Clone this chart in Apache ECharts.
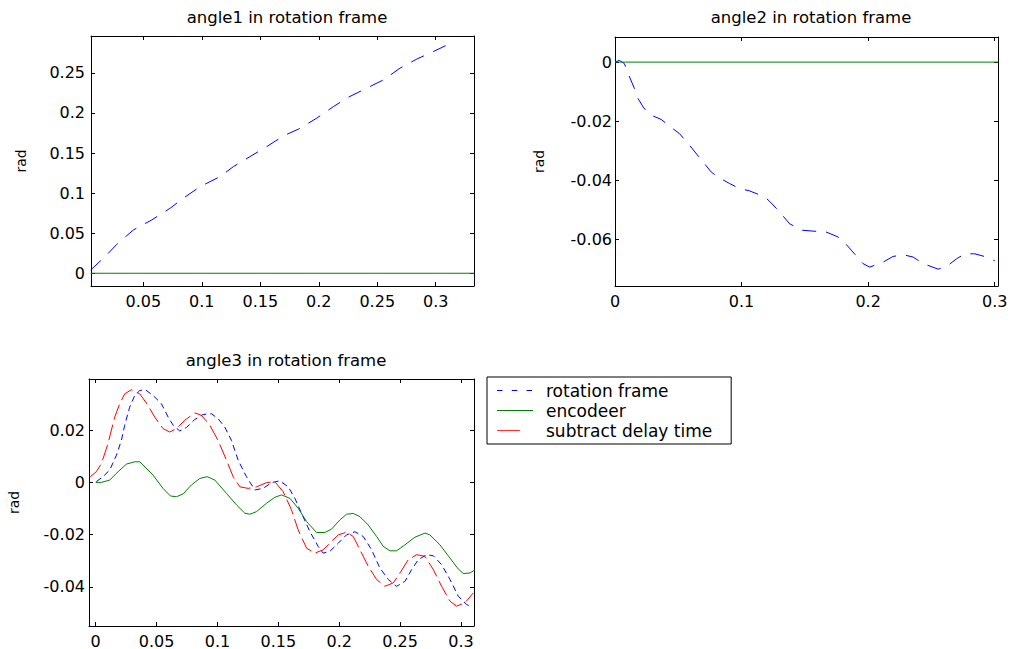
<!DOCTYPE html>
<html>
<head>
<meta charset="utf-8">
<script src="https://cdn.jsdelivr.net/npm/echarts@6/dist/echarts.min.js"></script>
<style>html,body{margin:0;padding:0;background:#fff;}#c{width:1012px;height:649px;}</style>
</head>
<body>
<div id="c"></div>
<script>
// ---------- data ----------
const titles = ['angle1 in rotation frame', 'angle2 in rotation frame', 'angle3 in rotation frame'];
const yName = 'rad';
const legendNames = ['rotation frame', 'encodeer', 'subtract delay time'];

// angle1
const a1Ticks_x = [0.05, 0.1, 0.15, 0.2, 0.25, 0.3];
const a1Ticks_y = [0, 0.05, 0.1, 0.15, 0.2, 0.25];
const a1Rot_x = [0.005, 0.0187, 0.0273, 0.0415, 0.0572, 0.0728, 0.0842, 0.0985, 0.1156, 0.127, 0.1413, 0.1555, 0.1698, 0.1826, 0.1983, 0.2126, 0.2254, 0.2411, 0.2553, 0.2696, 0.2838, 0.298, 0.3143];
const a1Rot_y = [0.004, 0.0228, 0.036, 0.054, 0.0665, 0.081, 0.0936, 0.108, 0.1206, 0.133, 0.1456, 0.158, 0.1714, 0.1798, 0.1935, 0.208, 0.2197, 0.231, 0.2413, 0.256, 0.2672, 0.2767, 0.2879];
const a1Enc_x = [0.005, 0.333];
const a1Enc_y = [0, 0];

// angle2
const a2Ticks_x = [0, 0.1, 0.2, 0.3];
const a2Ticks_y = [-0.06, -0.04, -0.02, 0];
const a2Rot_x = [0, 0.0034, 0.0074, 0.0105, 0.0153, 0.0166, 0.0227, 0.0272, 0.0364, 0.0456, 0.0509, 0.0588, 0.0688, 0.076, 0.0812, 0.0905, 0.0984, 0.1063, 0.1181, 0.1221, 0.13, 0.1379, 0.1472, 0.159, 0.1656, 0.1762, 0.1814, 0.188, 0.1959, 0.2012, 0.2118, 0.2197, 0.2276, 0.2355, 0.2434, 0.2553, 0.2619, 0.2698, 0.2764, 0.2843, 0.2935, 0.3001];
const a2Rot_y = [0, 0.0006, -0.0005, -0.004, -0.0089, -0.0112, -0.0155, -0.0177, -0.0194, -0.0225, -0.0242, -0.0281, -0.0334, -0.0372, -0.0389, -0.0411, -0.0428, -0.0436, -0.0456, -0.0471, -0.0507, -0.0547, -0.0569, -0.0573, -0.0573, -0.0592, -0.0611, -0.0643, -0.0682, -0.0694, -0.0677, -0.0658, -0.0652, -0.066, -0.0682, -0.0701, -0.0692, -0.0666, -0.0649, -0.0649, -0.066, -0.0673];
const a2Enc_x = [0, 0.303];
const a2Enc_y = [0, 0];

// angle3
const a3Ticks_x = [0, 0.05, 0.1, 0.15, 0.2, 0.25, 0.3];
const a3Ticks_y = [-0.04, -0.02, 0, 0.02];
const a3Rot_x = [0.0005, 0.006, 0.0115, 0.017, 0.0211, 0.0238, 0.0279, 0.0321, 0.0362, 0.0408, 0.0471, 0.054, 0.0595, 0.0636, 0.069, 0.0745, 0.0814, 0.0882, 0.0951, 0.1005, 0.106, 0.1115, 0.117, 0.1238, 0.1307, 0.1375, 0.1444, 0.1512, 0.1581, 0.1636, 0.169, 0.1759, 0.1827, 0.1868, 0.1923, 0.1992, 0.206, 0.2129, 0.2197, 0.2266, 0.2334, 0.2403, 0.2471, 0.254, 0.2595, 0.2649, 0.2718, 0.2773, 0.2841, 0.291, 0.2978, 0.3047, 0.3074];
const a3Rot_y = [0.0003, 0.0022, 0.0047, 0.0104, 0.0161, 0.0219, 0.0288, 0.0333, 0.0352, 0.0355, 0.0333, 0.0301, 0.025, 0.0219, 0.0197, 0.021, 0.0241, 0.026, 0.0263, 0.0244, 0.0212, 0.0161, 0.0085, 0.0022, -0.0029, -0.0023, -0.0001, 0.0006, -0.0017, -0.0061, -0.0118, -0.0188, -0.0245, -0.0271, -0.0264, -0.0233, -0.0201, -0.0189, -0.0207, -0.0258, -0.0328, -0.0372, -0.0398, -0.0379, -0.0334, -0.0296, -0.0277, -0.0281, -0.0315, -0.0372, -0.0436, -0.0468, -0.0474];
const a3Enc_x = [0, 0.0047, 0.0115, 0.0184, 0.0252, 0.0321, 0.0362, 0.0471, 0.0553, 0.0614, 0.0663, 0.0718, 0.0786, 0.0855, 0.0915, 0.0978, 0.1074, 0.1156, 0.1225, 0.1266, 0.1321, 0.1403, 0.1471, 0.1526, 0.1595, 0.1663, 0.1732, 0.1814, 0.1882, 0.1937, 0.2005, 0.206, 0.2115, 0.217, 0.2238, 0.2307, 0.2362, 0.2416, 0.2471, 0.254, 0.2622, 0.2704, 0.2745, 0.2827, 0.291, 0.2978, 0.3019, 0.3074, 0.3115];
const a3Enc_y = [0, 0, 0.0009, 0.0041, 0.007, 0.0079, 0.0079, 0.0028, -0.0023, -0.0052, -0.0055, -0.0044, -0.001, 0.0015, 0.0022, 0.0009, -0.0042, -0.0086, -0.0118, -0.0122, -0.0112, -0.008, -0.0057, -0.0048, -0.0061, -0.0099, -0.015, -0.0192, -0.0192, -0.0179, -0.0144, -0.0122, -0.0119, -0.0131, -0.0163, -0.0207, -0.0245, -0.0262, -0.0262, -0.0239, -0.021, -0.0194, -0.0201, -0.0239, -0.029, -0.0332, -0.0349, -0.0347, -0.0335];
const a3Del_x = [-0.0044, 0.0005, 0.0047, 0.0101, 0.0156, 0.0197, 0.0238, 0.0293, 0.0362, 0.043, 0.0485, 0.0553, 0.0608, 0.0663, 0.0732, 0.0814, 0.0868, 0.0937, 0.1005, 0.1074, 0.1129, 0.1184, 0.1252, 0.1321, 0.1403, 0.1471, 0.154, 0.1608, 0.1663, 0.1732, 0.18, 0.1868, 0.1923, 0.1992, 0.206, 0.2115, 0.217, 0.2238, 0.2307, 0.2375, 0.2444, 0.2499, 0.2567, 0.2636, 0.2704, 0.2773, 0.2841, 0.291, 0.2964, 0.3033, 0.3101];
const a3Del_y = [0.0022, 0.0041, 0.0072, 0.0149, 0.025, 0.0301, 0.0339, 0.0355, 0.0339, 0.0295, 0.025, 0.0206, 0.0193, 0.0206, 0.0238, 0.0266, 0.0257, 0.0219, 0.0161, 0.0085, 0.0022, -0.0017, -0.0023, -0.0017, -0.0001, 0.0003, -0.0036, -0.0105, -0.0182, -0.0252, -0.0271, -0.0258, -0.0233, -0.0201, -0.0191, -0.0207, -0.0258, -0.0321, -0.0372, -0.0398, -0.0385, -0.0347, -0.0296, -0.0277, -0.0283, -0.0334, -0.0398, -0.0455, -0.0474, -0.0461, -0.0423];

// ---------- build ----------
const FONT = 'DejaVu Sans';
const zip = (xs, ys) => xs.map((x, i) => [x, ys[i]]);

const grids = [
  {left: 91, top: 36, width: 383, height: 250},
  {left: 615, top: 37, width: 383, height: 249},
  {left: 89, top: 379, width: 385, height: 248}
];
const ranges = [
  {x: [0.0053, 0.3327], y: [-0.0159, 0.296], tx: a1Ticks_x, ty: a1Ticks_y, yMargin: 6, nameGap: 63},
  {x: [0, 0.3026], y: [-0.0758, 0.0085], tx: a2Ticks_x, ty: a2Ticks_y, yMargin: 3, nameGap: 69},
  {x: [-0.0055, 0.3107], y: [-0.055, 0.0396], tx: a3Ticks_x, ty: a3Ticks_y, yMargin: 4, nameGap: 68}
];

const xAxis = [], yAxis = [];
ranges.forEach((r, g) => {
  ['bottom', 'top'].forEach((pos, k) => {
    xAxis.push({
      type: 'value', gridIndex: g, position: pos, min: r.x[0], max: r.x[1],
      axisLine: {show: true, onZero: false, lineStyle: {color: '#000', width: 1}},
      axisTick: {show: true, inside: true, length: 4, customValues: r.tx, lineStyle: {color: '#000'}},
      axisLabel: {show: k === 0, customValues: r.tx, margin: 7, color: '#000', fontFamily: FONT, fontSize: 16, formatter: v => String(v)},
      splitLine: {show: false}
    });
  });
  ['left', 'right'].forEach((pos, k) => {
    yAxis.push({
      type: 'value', gridIndex: g, position: pos, min: r.y[0], max: r.y[1],
      name: k === 0 ? yName : '', nameLocation: 'middle', nameGap: r.nameGap, nameRotate: 90,
      nameTextStyle: {color: '#000', fontFamily: FONT, fontSize: 14},
      axisLine: {show: true, onZero: false, lineStyle: {color: '#000', width: 1}},
      axisTick: {show: true, inside: true, length: 4, customValues: r.ty, lineStyle: {color: '#000'}},
      axisLabel: {show: k === 0, customValues: r.ty, margin: r.yMargin, color: '#000', fontFamily: FONT, fontSize: 16, formatter: v => String(v)},
      splitLine: {show: false}
    });
  });
});

const BLUE = '#0000ff', GREEN = '#008000', RED = '#ff0000';
const DASH_TOP = [14, 10], DASH_BLUE = [6, 4], DASH_RED = [16, 5];

function line(name, g, xs, ys, color, dash) {
  return {
    name, type: 'line', xAxisIndex: g * 2, yAxisIndex: g * 2, data: zip(xs, ys),
    symbol: 'none', showSymbol: false, clip: true, smooth: false,
    lineStyle: {color, width: 1, type: dash || 'solid'}, itemStyle: {color}
  };
}

const series = [
  line('angle1 rotation', 0, a1Rot_x, a1Rot_y, BLUE, DASH_TOP),
  line('angle1 encoder', 0, a1Enc_x, a1Enc_y, GREEN),
  line('angle2 rotation', 1, a2Rot_x, a2Rot_y, BLUE, DASH_TOP),
  line('angle2 encoder', 1, a2Enc_x, a2Enc_y, GREEN),
  line(legendNames[0], 2, a3Rot_x, a3Rot_y, BLUE, DASH_BLUE),
  line(legendNames[1], 2, a3Enc_x, a3Enc_y, GREEN),
  line(legendNames[2], 2, a3Del_x, a3Del_y, RED, DASH_RED)
];

// legend sample glyphs (36 units wide, 1 unit high)
const legendIcons = [
  'path://M0,0h5.5v1h-5.5z M14.75,0h5.5v1h-5.5z M29.5,0h5.5v1h-5.5z M36,0v1',
  'path://M0,0h36v1h-36z',
  'path://M0,0h23v1h-23z M36,0v1'
];
const legendColors = [BLUE, GREEN, '#ff3030'];

const titleCenters = [[282, 4], [806, 4], [281, 347]];
const option = {
  animation: false,
  backgroundColor: '#fff',
  title: titles.map((t, i) => ({
    text: t, left: titleCenters[i][0], top: titleCenters[i][1], textAlign: 'center',
    textStyle: {color: '#000', fontFamily: FONT, fontSize: 16.5, fontWeight: 'normal'}
  })),
  grid: grids.map(g => Object.assign({containLabel: false}, g)),
  xAxis, yAxis, series,
  legend: {
    data: legendNames.map((n, i) => ({
      name: n, icon: legendIcons[i],
      itemStyle: {color: legendColors[i], borderWidth: 0}
    })),
    symbolKeepAspect: false,
    orient: 'vertical', left: 487, top: 377,
    padding: [5, 19, 5, 10], itemWidth: 36, itemHeight: 1.2, itemGap: 3,
    backgroundColor: '#fff', borderColor: '#000', borderWidth: 1, borderRadius: 0,
    selectedMode: false,
    textStyle: {color: '#000', fontFamily: FONT, fontSize: 17, lineHeight: 15, padding: [0, 0, 0, 8]}
  }
};

const chart = echarts.init(document.getElementById('c'), null, {renderer: 'svg', width: 1012, height: 649});
chart.setOption(option);
</script>
</body>
</html>
